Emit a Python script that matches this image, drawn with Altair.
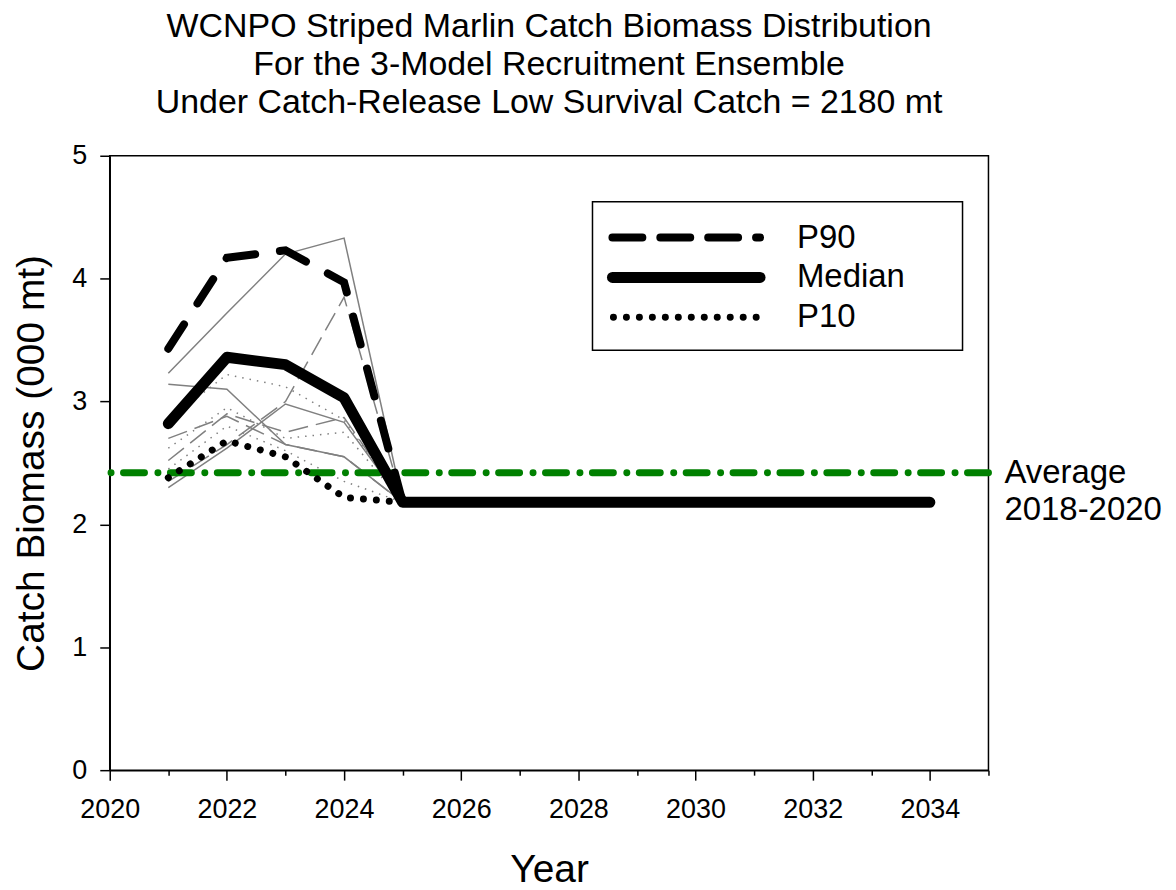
import altair as alt
import pandas as pd

FONT = "Liberation Sans"

# ---- data ----
years = [2021, 2022, 2023, 2024, 2025, 2026, 2027, 2028, 2029, 2030, 2031, 2032, 2033, 2034]
p90 = [3.43, 4.17, 4.23, 3.97, 2.18, 2.18, 2.18, 2.18, 2.18, 2.18, 2.18, 2.18, 2.18, 2.18]
median = [2.82, 3.36, 3.30, 3.03, 2.18, 2.18, 2.18, 2.18, 2.18, 2.18, 2.18, 2.18, 2.18, 2.18]
p10 = [2.38, 2.68, 2.55, 2.22, 2.18, 2.18, 2.18, 2.18, 2.18, 2.18, 2.18, 2.18, 2.18, 2.18]

model_years = [2021, 2022, 2023, 2024, 2025]
gray_solid_1 = [3.23, 3.72, 4.20, 4.33, 2.18]
gray_solid_2 = [3.14, 3.10, 2.65, 2.55, 2.18]
gray_solid_3 = [2.30, 2.62, 2.98, 2.83, 2.18]
gray_dash_1 = [2.35, 2.65, 3.00, 3.85, 2.18]
gray_dash_2 = [2.70, 2.88, 2.65, 2.55, 2.18]
gray_dash_3 = [2.52, 2.90, 2.75, 2.87, 2.18]
gray_dot_1 = [2.85, 3.22, 3.12, 2.85, 2.18]
gray_dot_2 = [2.62, 2.95, 2.70, 2.75, 2.18]
gray_dot_3 = [2.45, 2.80, 2.60, 2.35, 2.18]

average_2018_2020 = 2.42

title_lines = [
    "WCNPO Striped Marlin Catch Biomass Distribution",
    "For the 3-Model Recruitment Ensemble",
    "Under Catch-Release Low Survival Catch = 2180 mt",
]
legend_labels = ["P90", "Median", "P10"]

# ---- tables ----
def gray_table(series_list):
    rows = []
    for i, s in enumerate(series_list):
        for y, v in zip(model_years, s):
            rows.append({"series": i, "year": y, "value": v})
    return pd.DataFrame(rows)

solid_df = gray_table([gray_solid_1, gray_solid_2, gray_solid_3])
dash_df = gray_table([gray_dash_1, gray_dash_2, gray_dash_3])
dot_df = gray_table([gray_dot_1, gray_dot_2, gray_dot_3])

p90_df = pd.DataFrame({"year": years, "value": p90})
med_df = pd.DataFrame({"year": years, "value": median})
p10_df = pd.DataFrame({"year": years, "value": p10})
avg_df = pd.DataFrame({"value": [average_2018_2020]})
one = pd.DataFrame({"a": [0]})

x_scale = alt.Scale(domain=[2020, 2035], nice=False, zero=False)
y_scale = alt.Scale(domain=[0, 5], nice=False)

x_axis = alt.Axis(
    title="Year",
    values=list(range(2020, 2036)),
    format="d",
    labelExpr="(datum.value % 2 == 0 && datum.value < 2035) ? datum.label : ''",
    tickSize={"condition": {"test": "datum.value % 2 == 0", "value": 10}, "value": 5},
    labelFlush=False,
    labelOverlap=False,
    labelPadding=16,
    titlePadding=29,
)
y_axis = alt.Axis(
    title="Catch Biomass (000 mt)",
    values=[0, 0.5, 1, 1.5, 2, 2.5, 3, 3.5, 4, 4.5, 5],
    format="d",
    labelExpr="datum.value % 1 == 0 ? format(datum.value, 'd') : ''",
    tickSize={"condition": {"test": "datum.value % 1 == 0", "value": 10}, "value": 5},
    labelFlush=False,
    labelOverlap=False,
    labelPadding=13,
    titlePadding=20,
)

X = alt.X("year:Q", scale=x_scale)
Y = alt.Y("value:Q", scale=y_scale)

base_gray_solid = alt.Chart(solid_df).mark_line(color="#808080", strokeWidth=1.5).encode(
    x=alt.X("year:Q", scale=x_scale, axis=x_axis),
    y=alt.Y("value:Q", scale=y_scale, axis=y_axis),
    detail="series:N",
)
base_gray_dash = alt.Chart(dash_df).mark_line(color="#808080", strokeWidth=1.5, strokeDash=[20, 8]).encode(
    x=X, y=Y, detail="series:N"
)
base_gray_dot = alt.Chart(dot_df).mark_line(color="#808080", strokeWidth=1.5, strokeDash=[1.5, 6]).encode(
    x=X, y=Y, detail="series:N"
)

green = alt.Chart(avg_df).mark_rule(
    color="#008000", strokeWidth=7, strokeCap="round", strokeDash=[21, 12.5, 0.01, 13.5]
).encode(y=Y)

p10_line = alt.Chart(p10_df).mark_line(
    color="black", strokeWidth=7, strokeCap="round", strokeDash=[0.01, 13]
).encode(x=X, y=Y)
p90_line = alt.Chart(p90_df).mark_line(
    color="black", strokeWidth=8, strokeCap="round", strokeDash=[29, 25]
).encode(x=X, y=Y)
med_line = alt.Chart(med_df).mark_line(
    color="black", strokeWidth=11, strokeCap="round", strokeJoin="round"
).encode(x=X, y=Y)

avg_text = alt.Chart(avg_df).mark_text(
    text=["Average", "2018-2020"], align="left", baseline="middle",
    font=FONT, fontSize=33, lineHeight=37, color="black",
).encode(x=alt.value(897), y=Y)

# ---- legend box ----
legend_box = alt.Chart(one).mark_rect(fill="white", stroke="black", strokeWidth=1.5).encode(
    x=alt.value(484), x2=alt.value(855), y=alt.value(46), y2=alt.value(195)
)
leg_p90 = alt.Chart(one).mark_rule(color="black", strokeWidth=8, strokeCap="round", strokeDash=[30, 18]).encode(
    x=alt.value(504), x2=alt.value(652), y=alt.value(82)
)
leg_med = alt.Chart(one).mark_rule(color="black", strokeWidth=11, strokeCap="round").encode(
    x=alt.value(504), x2=alt.value(652), y=alt.value(122)
)
leg_p10 = alt.Chart(one).mark_rule(color="black", strokeWidth=7, strokeCap="round", strokeDash=[0.01, 13]).encode(
    x=alt.value(505), x2=alt.value(660), y=alt.value(162)
)
leg_text = [
    alt.Chart(one).mark_text(
        text=lbl, align="left", baseline="middle", font=FONT, fontSize=33, color="black"
    ).encode(x=alt.value(689), y=alt.value(yy))
    for lbl, yy in zip(legend_labels, [82, 122, 162])
]

chart = alt.layer(
    base_gray_solid, base_gray_dash, base_gray_dot, green, p10_line, p90_line, med_line,
    avg_text, legend_box, leg_p90, leg_med, leg_p10, *leg_text,
).properties(
    width=881,
    height=616,
    autosize="none",
    padding={"left": 102, "top": 147, "right": 180, "bottom": 116},
    title=alt.TitleParams(
        title_lines, font=FONT, fontSize=34, fontWeight="normal", lineHeight=38,
        anchor="middle", color="black", offset=22,
    ),
).configure_view(
    stroke="black", strokeWidth=1.5
).configure_axis(
    grid=False,
    domainColor="black", domainWidth=1.5,
    tickColor="black", tickWidth=1.5,
    labelFont=FONT, labelFontSize=27, labelColor="black",
    titleFont=FONT, titleFontSize=39, titleFontWeight="normal", titleColor="black",
)

chart.save("out.html", embed_options={"renderer": "svg", "actions": False})
